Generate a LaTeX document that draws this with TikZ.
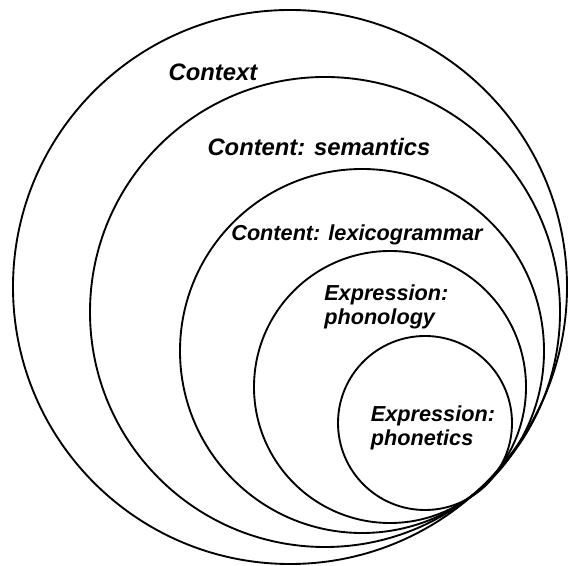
\documentclass[tikz,border=0pt]{standalone}
\usepackage{fontspec}
\setmainfont{Liberation Sans}
\begin{document}
\begin{tikzpicture}[
	line width=1.6pt,
	line cap=round,
	line join=round,
	stratum/.style={font=\fontsize{20.3}{21.3}\selectfont\bfseries\itshape,inner sep=0pt},
	substratum/.style={stratum,font=\fontsize{18.5}{20.2}\selectfont\bfseries\itshape},
	twoline/.style={substratum,anchor=west,align=left}
	]
	\useasboundingbox (0,0) rectangle (17.04,16.95);
	\begin{scope}
		\draw (8.70,8.34) circle (8.31);
		\draw (9.75,7.59) circle (7.05);
		\draw (10.86,6.42) circle (5.46);
		\draw (11.70,5.34) circle (4.08);
		\draw (12.75,4.26) circle (2.61);
	\end{scope}
	\node[stratum] (context) at (6.39,14.79) {Context};
	\node[stratum] (semantics) at (9.57,12.54) {Content: semantics};
	\node[substratum] (lexgram) at (10.71,9.90) {Content: lexicogrammar};
	\node[twoline] (phonology) at (9.70,7.74) {Expression:\\phonology};
	\node[twoline] (phonetics) at (11.10,4.12) {Expression:\\phonetics};
\end{tikzpicture}
\end{document}
